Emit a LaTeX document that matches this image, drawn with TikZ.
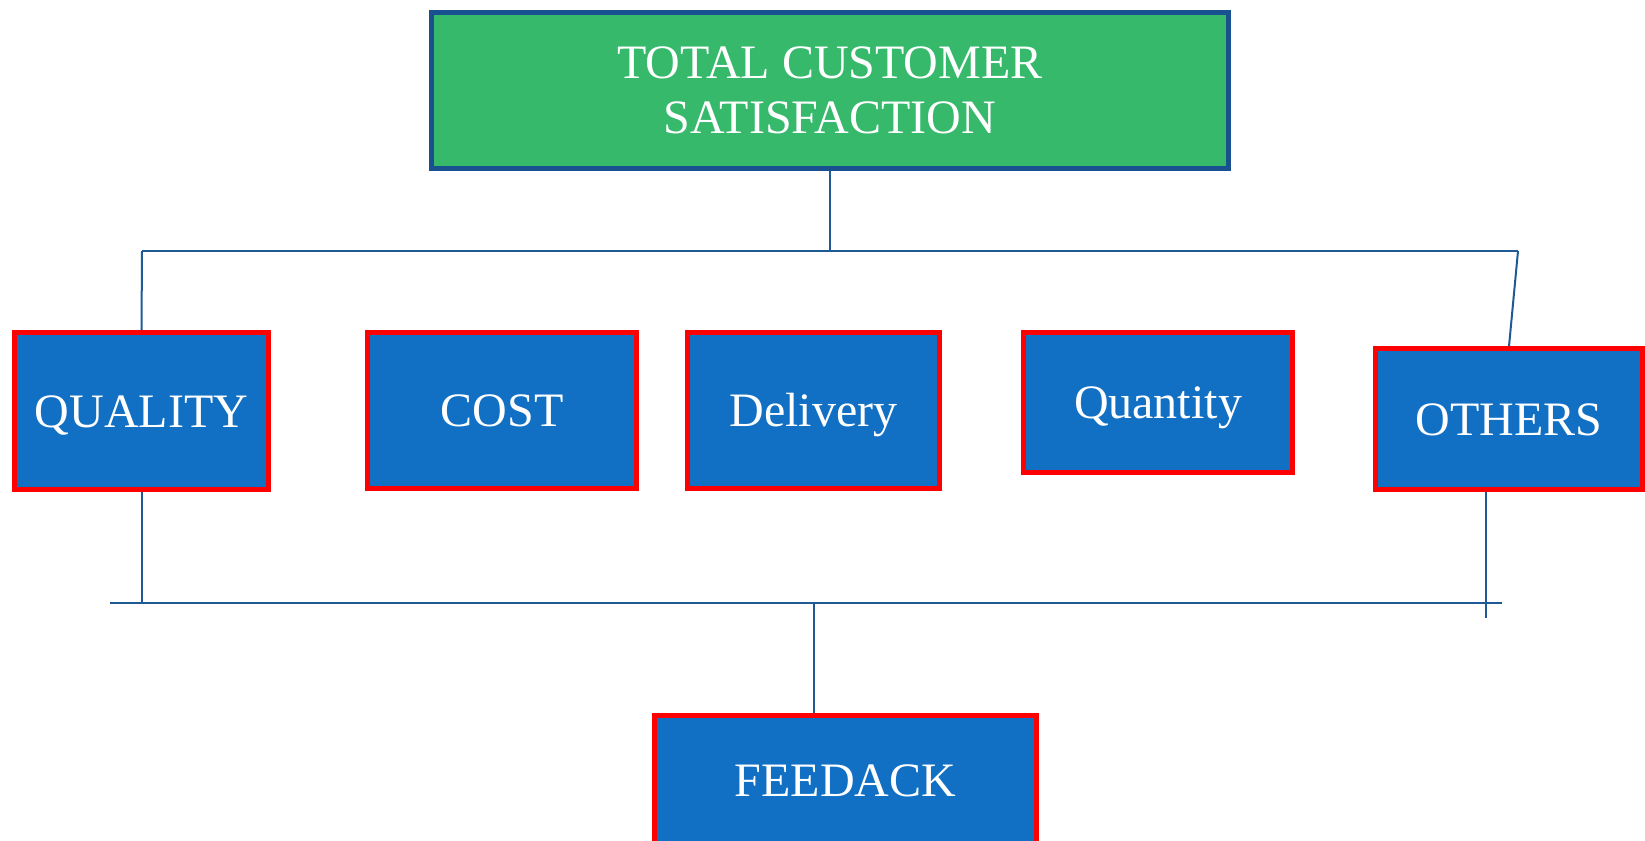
\documentclass[tikz,border=0pt]{standalone}
\usepackage{fontspec}
\setmainfont{Liberation Serif}
\usetikzlibrary{calc}
\pgfdeclarelayer{background}
\pgfsetlayers{background,main}
\definecolor{topgreen}{HTML}{36B96B}
\definecolor{topborder}{HTML}{19508F}
\definecolor{boxblue}{HTML}{1170C4}
\definecolor{boxred}{HTML}{FF0000}
\definecolor{linkblue}{HTML}{1F5A96}
\tikzset{
  topbox/.style={draw=topborder, fill=topgreen, line width=2.5pt, inner sep=0pt,
    text=white, align=center, font=\fontsize{24}{27.5}\selectfont},
  itembox/.style={draw=boxred, fill=boxblue, line width=2.25pt, inner sep=0pt,
    text=white, font=\fontsize{24}{28}\selectfont, text height=16pt, text depth=0pt},
  link/.style={draw=linkblue, line width=1pt}
}
\begin{document}
\begin{tikzpicture}[x=0.5pt,y=-0.5pt]
\useasboundingbox (0,0) rectangle (1645,841);

\node[topbox, minimum width=398.5pt, minimum height=78pt] (T) at (830,90.5)
  {TOTAL CUSTOMER\\SATISFACTION};
\node[itembox, minimum width=127pt, minimum height=78.5pt] (Q) at (141.5,411) {QUALITY};
\node[itembox, minimum width=134.5pt, minimum height=78pt] (C) at (502,410.5) {COST};
\node[itembox, minimum width=126pt, minimum height=78pt] (D) at (813.5,410.5) {Delivery};
\node[itembox, minimum width=134.5pt, minimum height=70pt] (N) at (1158,402.5) {Quantity};
\node[itembox, minimum width=133.5pt, minimum height=70.5pt] (O) at (1509,419) {OTHERS};
\node[itembox, minimum width=191pt, minimum height=65pt] (F) at (845.5,780.5) {FEEDACK};

\coordinate (hL) at (142,251);
\coordinate (hR) at (1518,251);
\coordinate (bL) at (110,603);
\coordinate (bR) at (1502,603);
\coordinate (oB) at (1486,492);
\coordinate (oE) at (1486,618);
\coordinate (bM) at (814,603);

\begin{pgfonlayer}{background}
\fill[white] (0,0) rectangle (1645,841);
\draw[link] (T.south) -- (T.south |- hL);
\draw[link] (hL) -- (hR);
\draw[link] (hL) -- (Q.north);
\draw[link] (hR) -- (O.north);
\draw[link] (Q.south) -- (Q.south |- bL);
\draw[link] (bL) -- (bR);
\draw[link] (oB) -- (oE);
\draw[link] (bM) -- (bM |- F.north);
\end{pgfonlayer}
\end{tikzpicture}
\end{document}
